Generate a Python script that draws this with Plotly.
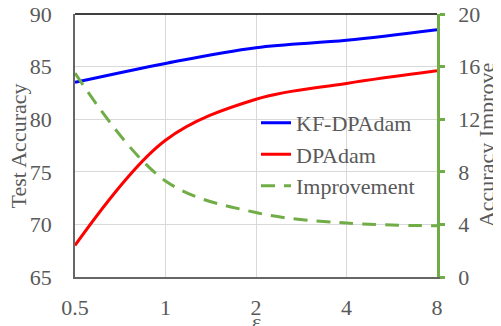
import plotly.graph_objects as go

eps = [0.5, 1, 2, 4, 8]
tick_labels = ["0.5", "1", "2", "4", "8"]
kf_dpadam = [83.5, 85.3, 86.8, 87.5, 88.5]
dpadam = [68.0, 78.0, 81.9, 83.4, 84.6]
improvement = [15.5, 7.3, 4.9, 4.1, 3.9]

FONT = "Times New Roman, Liberation Serif, serif"
GRAY = "#595959"
GREEN = "#70AD47"

fig = go.Figure()
fig.add_trace(go.Scatter(x=eps, y=kf_dpadam, name="KF-DPAdam", mode="lines",
                         line=dict(color="#0000FF", width=3, shape="spline")))
fig.add_trace(go.Scatter(x=eps, y=dpadam, name="DPAdam", mode="lines",
                         line=dict(color="#FF0000", width=3, shape="spline")))
fig.add_trace(go.Scatter(x=eps, y=improvement, name="Improvement", mode="lines", yaxis="y2",
                         line=dict(color=GREEN, width=3, shape="spline", dash="14px,9px")))

fig.update_layout(
    width=493, height=318,
    margin=dict(l=67, r=64, t=6, b=49, autoexpand=False),
    paper_bgcolor="white", plot_bgcolor="white",
    font=dict(family=FONT, size=22, color=GRAY),
    showlegend=True,
    legend=dict(x=0.5, y=0.666, xanchor="left", yanchor="top", bgcolor="rgba(0,0,0,0)",
                font=dict(family=FONT, size=22, color=GRAY), itemwidth=30,
                tracegroupgap=0),
    xaxis=dict(type="log", range=[-0.30103, 0.90309], tickvals=eps, ticktext=tick_labels,
               showgrid=True, gridcolor="#D9D9D9", gridwidth=1, automargin=False,
               showline=True, linecolor="#666666", linewidth=1.5,
               ticks="", ticklabelstandoff=10, zeroline=False, ticklabeloverflow="allow",
               tickfont=dict(family=FONT, size=22, color=GRAY)),
    yaxis=dict(range=[65, 90], dtick=5, showgrid=True, gridcolor="#D9D9D9", gridwidth=1,
               showline=True, linecolor="#666666", linewidth=1.5, automargin=False,
               ticks="", ticklabelstandoff=17, zeroline=False, ticklabeloverflow="allow",
               tickfont=dict(family=FONT, size=22, color=GRAY)),
    yaxis2=dict(range=[0, 20], dtick=4, overlaying="y", side="right", showgrid=False,
                showline=True, linecolor=GREEN, linewidth=2.5, automargin=False,
                ticks="outside", ticklen=5, tickwidth=2.5, tickcolor=GREEN,
                ticklabelstandoff=9, zeroline=False, ticklabeloverflow="allow",
                tickfont=dict(family=FONT, size=22, color=GRAY)),
)

fig.add_shape(type="line", xref="paper", yref="paper", x0=0, x1=1, y0=1, y1=1,
              line=dict(color="#000000", width=1.5))

fig.add_annotation(text="Test Accuracy", xref="paper", yref="paper", x=-0.155, y=0.5,
                   xanchor="center", yanchor="middle", textangle=-90, showarrow=False,
                   font=dict(family=FONT, size=22, color=GRAY))
fig.add_annotation(text="Accuracy Improve", xref="paper", yref="paper", x=1.137, y=0.5,
                   xanchor="center", yanchor="middle", textangle=-90, showarrow=False,
                   font=dict(family=FONT, size=22, color=GRAY))
fig.add_annotation(text="ε", xref="paper", yref="paper", x=0.5, y=-0.17,
                   xanchor="center", yanchor="middle", showarrow=False,
                   font=dict(family=FONT, size=22, color=GRAY))

fig.write_html("out.html")
